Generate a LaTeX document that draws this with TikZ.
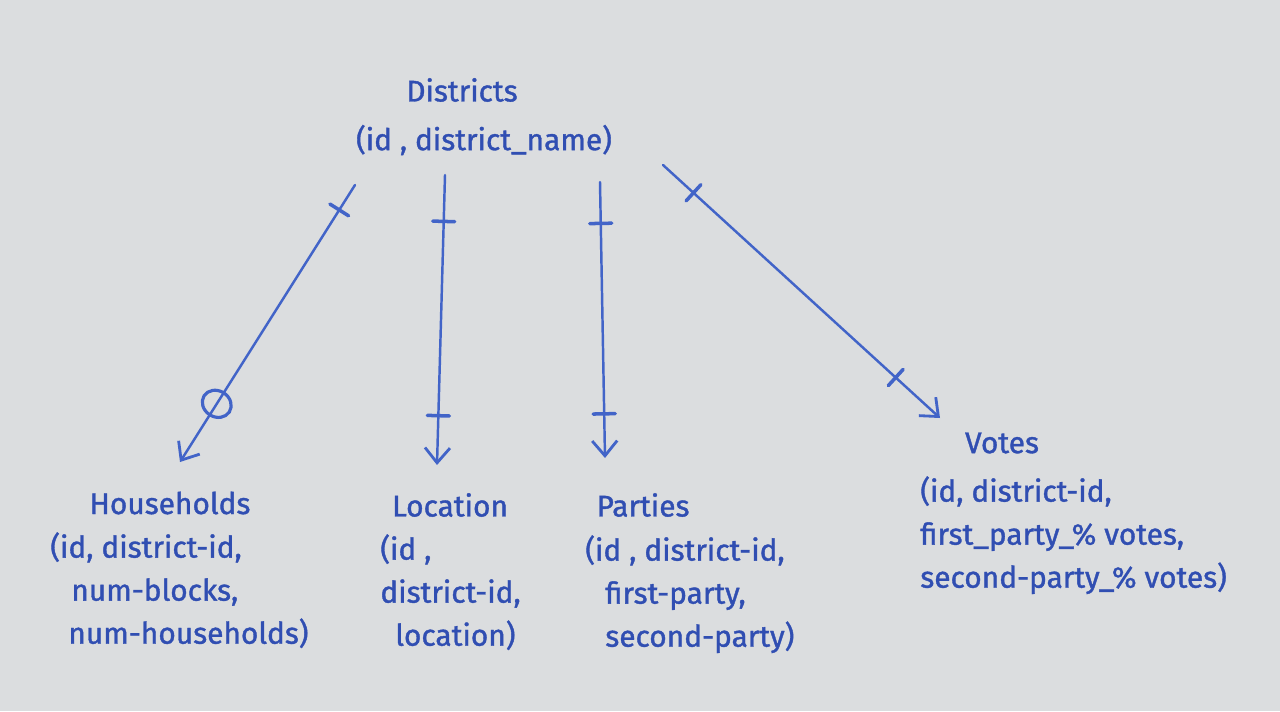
\documentclass[tikz,border=0pt]{standalone}
\usepackage{fontspec}
\setmainfont{Fira Sans}
\newfontfamily\penfont{Fira Sans}[FakeBold=1.2]
\usetikzlibrary{arrows.meta, positioning, decorations.markings}
\definecolor{papercol}{RGB}{219,221,223}
\definecolor{inkcol}{RGB}{48,78,178}
\definecolor{pencol}{RGB}{66,100,200}

\begin{document}
\begin{tikzpicture}[
  ent/.style     = {text=inkcol, inner sep=0pt, font=\penfont\fontsize{17}{24.5}\selectfont},
  attr/.style    = {text=inkcol, inner sep=0pt, align=left, anchor=north west,
                    font=\penfont\fontsize{17}{24.5}\selectfont},
  rel/.style     = {-{Straight Barb[length=3mm, width=5mm, line width=1.6pt]},
                    pencol, line width=1.4pt, line cap=round},
  onetick/.style = {postaction={decorate, decoration={markings,
                    mark=at position #1 with {\draw[-, pencol, line width=2pt, line cap=round] (0,-0.22) -- (0,0.22);}}}},
  zerocirc/.style= {postaction={decorate, decoration={markings,
                    mark=at position #1 with {\draw[-, pencol, line width=1.8pt] (0,0) ellipse (0.26 and 0.3);}}}},
]

% ---------- paper ----------
\fill[papercol] (0,0) rectangle (25.6,14.22);
\useasboundingbox (0,0) rectangle (25.6,14.22);

% ---------- central table ----------
\node[ent] (dist)     at (9.24,12.42) {Districts};
\node[ent] (distattr) at (9.68,11.42) {(id , district\_name)};

% ---------- child tables ----------
\node[ent]  (hh)      at (3.4,4.16)  {Households};
\node[attr] (hhattr)  at (1.0,3.58)  {(id, district-id,\\\hspace*{0.42cm}num-blocks,\\\hspace*{0.36cm}num-households)};

\node[ent]  (loc)     at (9.0,4.12)  {Location};
\node[attr] (locattr) at (7.6,3.54)  {(id ,\\district-id,\\\hspace*{0.3cm}location)};

\node[ent]  (par)     at (12.86,4.12) {Parties};
\node[attr] (parattr) at (11.7,3.52)  {(id , district-id,\\\hspace*{0.4cm}first-party,\\\hspace*{0.4cm}second-party)};

\node[ent]  (vot)     at (20.04,5.36) {Votes};
\node[attr] (votattr) at (18.4,4.7)   {(id, district-id,\\first\_party\_\% votes,\\second-party\_\% votes)};

% ---------- connector end points ----------
\coordinate (hhS)  at (7.1,10.52);   \coordinate (hhE)  at (3.6,4.98);
\coordinate (locS) at (8.9,10.72);   \coordinate (locE) at (8.74,4.92);
\coordinate (parS) at (12.0,10.58);  \coordinate (parE) at (12.1,5.06);
\coordinate (votS) at (13.26,10.92); \coordinate (votE) at (18.8,5.86);

% ---------- relationships ----------
\draw[rel, onetick=0.09, zerocirc=0.79] (hhS)  -- (hhE);
\draw[rel, onetick=0.16, onetick=0.83]  (locS) -- (locE);
\draw[rel, onetick=0.15, onetick=0.84]  (parS) -- (parE);
\draw[rel, onetick=0.11, onetick=0.84]  (votS) -- (votE);

\end{tikzpicture}
\end{document}
